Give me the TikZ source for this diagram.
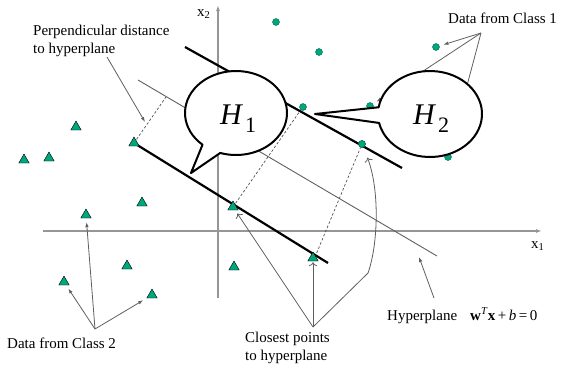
\documentclass[tikz,border=0pt]{standalone}
\usepackage{fontspec}
\setmainfont{Liberation Serif}
\usetikzlibrary{arrows.meta,positioning,calc,shapes.geometric}
\definecolor{PointGreen}{RGB}{0,166,124}
\definecolor{AxisGray}{RGB}{150,150,150}
\definecolor{NoteGray}{RGB}{95,95,95}
\definecolor{DashGray}{RGB}{80,80,80}

\begin{document}
\begin{tikzpicture}[x=1pt,y=-1pt,
    axis/.style={draw=AxisGray, line width=1.4pt, -{Latex[length=6pt,width=4pt]}},
    margin/.style={line width=2.2pt},
    perp/.style={draw=DashGray, line width=0.7pt, dash pattern=on 2.5pt off 2pt},
    note/.style={draw=NoteGray, line width=0.8pt, -{Latex[length=5pt,width=3.5pt]}, shorten >=4pt},
    opennote/.style={draw=NoteGray, line width=0.8pt, -{To[length=4pt]}},
    classone/.style={circle, fill=PointGreen, draw=PointGreen!60!black, line width=0.4pt, minimum size=7pt, inner sep=0pt},
    classtwo/.style={regular polygon, regular polygon sides=3, fill=PointGreen, draw=black, line width=0.4pt, minimum size=12pt, inner sep=0pt},
    bubble/.style={draw=black, fill=white, line width=2pt, line join=round},
    lbl/.style={font=\fontsize{15}{18}\selectfont, inner sep=0pt}]
  \useasboundingbox (0,0) rectangle (562,370);

  % axes
  \coordinate (x1start) at (43,231);
  \coordinate (x1end) at (542,231);
  \coordinate (x2start) at (218,298);
  \coordinate (x2end) at (218,5);
  \draw[axis] (x1start) -- (x1end);
  \draw[axis] (x2start) -- (x2end);
  \node[lbl, anchor=base west] (x1lbl) at (531,248) {x\textsubscript{1}};
  \node[lbl, anchor=base west] (x2lbl) at (197,16) {x\textsubscript{2}};

  % hyperplane and margins
  \coordinate (hypa) at (138,80);
  \coordinate (hypb) at (437,256);
  \draw[draw=NoteGray, line width=0.9pt] (hypa) -- (hypb);
  \coordinate (upa) at (185,47);
  \coordinate (upb) at (402,168);
  \coordinate (lowa) at (134,143);
  \coordinate (lowb) at (328,263);

  % data points
  \node[classone] (cA) at (276,22) {};
  \node[classone] (cB) at (319,52) {};
  \node[classone] (cC) at (436,47) {};
  \node[classone] (cD) at (303,107) {};
  \node[classone] (cE) at (370,106) {};
  \node[classone] (cF) at (362,144) {};
  \node[classone] (cG) at (448,157) {};
  \node[classtwo] (tA) at (76,127) {};
  \node[classtwo] (tB) at (24,160) {};
  \node[classtwo] (tC) at (49,158) {};
  \node[classtwo] (tE) at (142,203) {};
  \node[classtwo] (tF) at (86,215) {};
  \node[classtwo] (tG) at (127,266) {};
  \node[classtwo] (tH) at (64,282) {};
  \node[classtwo] (tI) at (152,295) {};
  \node[classtwo] (tJ) at (234,267) {};

  % perpendicular distances
  \coordinate (pd1) at (166,97);
  \coordinate (pd2) at (300,111);
  \draw[perp] (lowa) -- (pd1);
  \draw[perp] (233,207) -- (pd2);
  \draw[perp] (315,257) -- (cF);
  \draw[margin] (upa) -- (upb);
  \draw[margin] (lowa) -- (lowb);
  \node[classtwo] (tD) at (lowa) {};
  \node[classtwo] (tK) at (233,207) {};
  \node[classtwo] (tL) at (313,258) {};
  \node[classone] at (cF) {};

  % notes
  \node[lbl, anchor=north west, align=left] (perplbl) at (33,25) {Perpendicular distance\\to hyperplane};
  \coordinate (perpsrc) at (107,57);
  \coordinate (perptip) at (145,122);
  \draw[note, shorten >=0pt] (perpsrc) -- (perptip);

  \node[lbl, anchor=base west] (cls1lbl) at (448,23) {Data from Class 1};
  \coordinate (cls1src) at (481,33);
  \draw[note] (cls1src) -- (cC);
  \draw[note] (cls1src) -- (cE);
  \draw[note] (cls1src) -- (cG);

  \node[lbl, anchor=base west] (cls2lbl) at (7,348) {Data from Class 2};
  \coordinate (cls2src) at (95,329);
  \draw[note] (cls2src) -- (tF);
  \draw[note] (cls2src) -- (tH);
  \draw[note] (cls2src) -- (tI);

  \node[lbl, anchor=north west, align=left] (closelbl) at (245,332) {Closest points\\to hyperplane};
  \coordinate (closesrc) at (313,327);
  \draw[opennote, shorten >=4pt] (closesrc) -- (tK);
  \draw[opennote, shorten >=1pt] (closesrc) -- (tL);
  \draw[opennote, shorten >=11pt] (closesrc) -- (368,273) .. controls (378,245) and (380,190) .. (cF);

  \node[lbl, anchor=base west] (hyplbl) at (387,320) {Hyperplane};
  \node[lbl, anchor=base west] (hypeq) at (470,320) {\textbf{w}\textsuperscript{\textit{T}}\textbf{x}\,+\,\textit{b}\,=\,0};
  \coordinate (hypsrc) at (434,298);
  \coordinate (hyptip) at (419,257);
  \draw[note, shorten >=0pt] (hypsrc) -- (hyptip);

  % speech bubbles
  \coordinate (tipone) at (191,173);
  \coordinate (tiptwo) at (315,114);
  \draw[bubble] (236,113) ++(131:51 and 42) arc[start angle=131, end angle=468, x radius=51, y radius=42] -- (tipone) -- cycle;
  \draw[bubble] (430,114) ++(189:52 and 43) arc[start angle=189, end angle=528, x radius=52, y radius=43] -- (tiptwo) -- cycle;
  \node[anchor=base west, inner sep=0pt] (hone) at (220,124) {\fontsize{30}{30}\selectfont\textit{H}\hspace{2pt}\raisebox{-8pt}{\fontsize{22}{22}\selectfont 1}};
  \node[anchor=base west, inner sep=0pt] (htwo) at (413,124) {\fontsize{30}{30}\selectfont\textit{H}\hspace{2pt}\raisebox{-8pt}{\fontsize{22}{22}\selectfont 2}};
\end{tikzpicture}
\end{document}
